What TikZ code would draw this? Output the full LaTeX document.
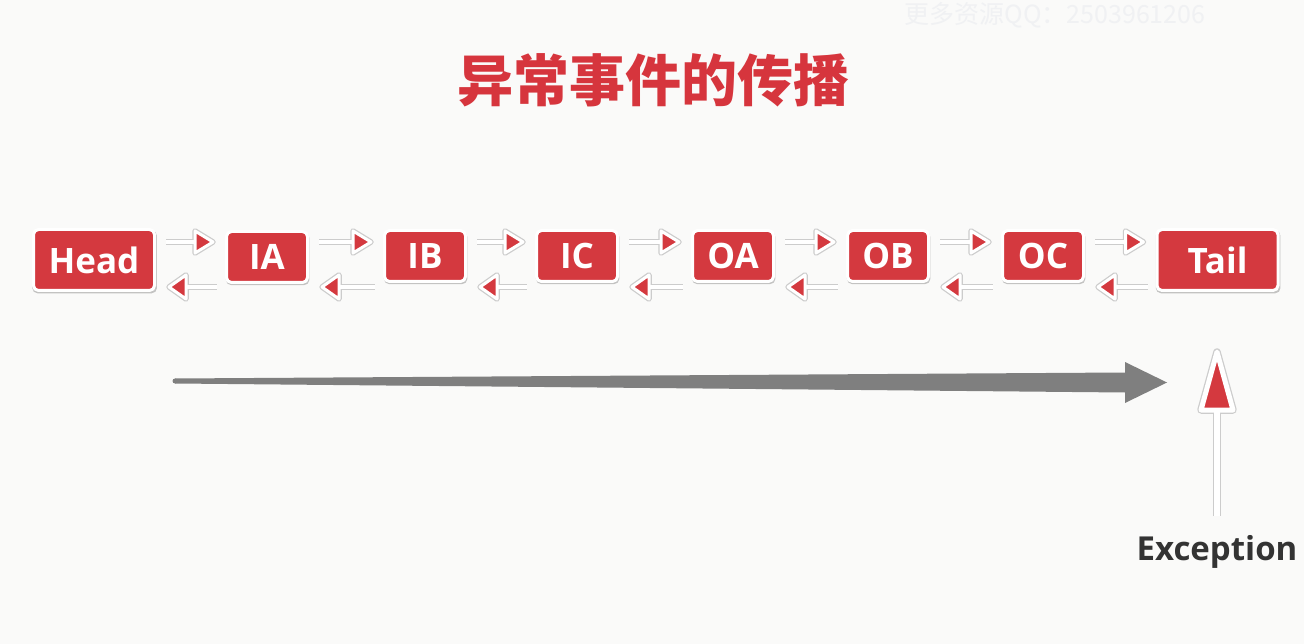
\documentclass[tikz,border=0pt]{standalone}
\usepackage{fontspec}
\newfontfamily\osans{Open Sans}
\newfontfamily\cjk{Noto Sans CJK SC}
\usetikzlibrary{calc,shadows}
\definecolor{boxred}{HTML}{D4393F}
\definecolor{titlered}{HTML}{D6353D}
\definecolor{bg}{HTML}{FAFAF9}
\definecolor{arrowgray}{HTML}{7F7F7F}
\definecolor{txtdark}{HTML}{333333}
\definecolor{wmark}{HTML}{F0F1F3}
\tikzset{
  redbox/.style={rectangle, rounded corners=5pt, fill=boxred, draw=white, line width=3pt,
    text=white, font=\osans\bfseries\fontsize{35}{40}\selectfont, inner sep=0pt,
    drop shadow={shadow scale=1.03, shadow xshift=0.6pt, shadow yshift=-1.8pt, fill=black, opacity=0.22}},
  smallbox/.style={redbox, minimum width=81pt, minimum height=51pt},
  bigbox/.style={redbox, minimum width=121pt, minimum height=61pt},
  linkshade/.style={draw=black!20, line width=6.5pt},
  linkwhite/.style={draw=white, line width=4pt},
  tipshade/.style={draw=black!20, fill=black!20, line width=5.5pt, line join=round},
  tipfill/.style={fill=boxred, draw=white, line width=3pt, line join=round},
}
\newcommand\linkpair[2]{%
  \coordinate (#1#2ts) at ($(#1.east |- topy)+(10,0)$);
  \coordinate (#1#2tip) at ($(#2.west |- topy)+(-12,0)$);
  \coordinate (#1#2tb) at ($(#1#2tip)+(-18,0)$);
  \coordinate (#1#2btip) at ($(#1.east |- boty)+(13,0)$);
  \coordinate (#1#2bb) at ($(#1#2btip)+(17,0)$);
  \coordinate (#1#2be) at ($(#2.west |- boty)+(-8,0)$);
  \draw[linkshade] (#1#2ts) -- (#1#2tb);
  \draw[linkshade] (#1#2bb) -- (#1#2be);
  \path[tipshade] ($(#1#2tb)+(0,-11)$) -- (#1#2tip) -- ($(#1#2tb)+(0,11)$) -- cycle;
  \path[tipshade] ($(#1#2bb)+(0,-12)$) -- (#1#2btip) -- ($(#1#2bb)+(0,12)$) -- cycle;
  \draw[linkwhite] (#1#2ts) -- (#1#2tb);
  \draw[linkwhite] (#1#2bb) -- (#1#2be);
  \filldraw[tipfill] ($(#1#2tb)+(0,-11)$) -- (#1#2tip) -- ($(#1#2tb)+(0,11)$) -- cycle;
  \filldraw[tipfill] ($(#1#2bb)+(0,-12)$) -- (#1#2btip) -- ($(#1#2bb)+(0,12)$) -- cycle;
}
\begin{document}
\begin{tikzpicture}[x=1pt,y=-1pt]
\fill[bg] (0,0) rectangle (1304,644);
\useasboundingbox (0,0) rectangle (1304,644);
\coordinate (topy) at (0,242);
\coordinate (boty) at (0,287);
% watermark
\node[text=wmark, font=\cjk\fontsize{25}{27}\selectfont] (wm) at (1055,15) {更多资源QQ：2503961206};
% title
\node[text=titlered, font=\cjk\bfseries\fontsize{56}{62}\selectfont] (title) at (653,80) {异常事件的传播};
% boxes
\node[bigbox] (Head) at (94,260) {Head};
\node[smallbox] (IA) at (267,257) {IA};
\node[smallbox] (IB) at (425,256) {IB};
\node[smallbox] (IC) at (577,256) {IC};
\node[smallbox] (OA) at (733,256) {OA};
\node[smallbox] (OB) at (888,256) {OB};
\node[smallbox] (OC) at (1043,256) {OC};
\node[bigbox] (Tail) at (1217.5,260) {Tail};
\linkpair{Head}{IA}
\linkpair{IA}{IB}
\linkpair{IB}{IC}
\linkpair{IC}{OA}
\linkpair{OA}{OB}
\linkpair{OB}{OC}
\linkpair{OC}{Tail}
% gray propagation arrow
\coordinate (gs) at (175,381);
\coordinate (ge) at (1167,382.5);
\fill[arrowgray] ($(gs)+(0,-2.5)$) -- (1125,372.5) -- (1125,362) -- (ge) -- (1125,403) -- (1125,392.5) -- ($(gs)+(0,2.5)$) -- cycle;
\fill[arrowgray] (gs) circle[radius=2.5];
% exception
\node[text=txtdark, font=\osans\bfseries\fontsize{33}{38}\selectfont] (exc) at (1217,552) {Exception};
\coordinate (el) at (1217,516);
\coordinate (etb) at (1217,410);
\coordinate (etip) at (1217,352);
\draw[draw=black!20, line width=8.5pt] (el) -- (etb);
\path[draw=black!20, fill=black!20, line width=7.5pt, line join=round] ($(etb)+(-16,0)$) -- (etip) -- ($(etb)+(16,0)$) -- cycle;
\draw[draw=white, line width=6pt] (el) -- (etb);
\filldraw[fill=boxred, draw=white, line width=5pt, line join=round] ($(etb)+(-16,0)$) -- (etip) -- ($(etb)+(16,0)$) -- cycle;
\end{tikzpicture}
\end{document}
